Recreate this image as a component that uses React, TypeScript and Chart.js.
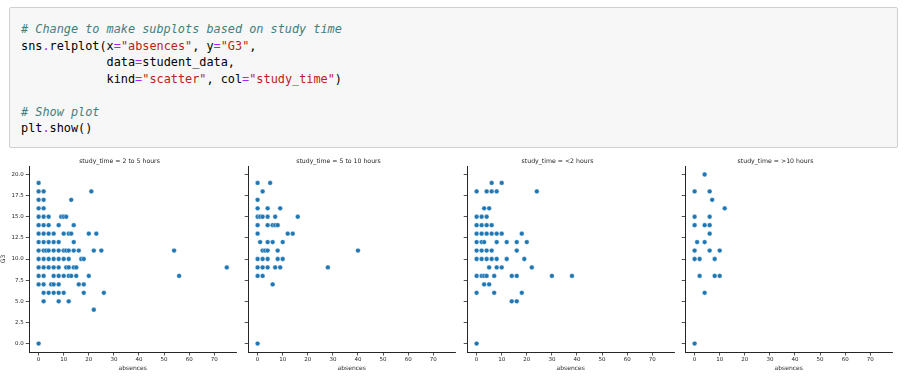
import React, { useEffect, useRef } from "react";
import { Chart, registerables } from "chart.js";

Chart.register(...registerables);

// ---- data ----
const panelTitles = [
  "study_time = 2 to 5 hours",
  "study_time = 5 to 10 hours",
  "study_time = <2 hours",
  "study_time = >10 hours",
];

const xTickValues = [0, 10, 20, 30, 40, 50, 60, 70];
const yTickValues = [0, 2.5, 5, 7.5, 10, 12.5, 15, 17.5, 20];

// study_time = 2 to 5 hours
const absences2to5 = [
  0,
  0, 2, 21,
  0, 2, 13,
  0, 2,
  0, 2, 4, 9, 10, 11,
  0, 2, 4, 8, 14,
  0, 2, 4, 6, 10, 12, 13, 20, 23,
  0, 2, 4, 6, 8, 14,
  0, 2, 3, 4, 6, 8, 10, 11, 12, 14, 16, 22, 25, 54,
  0, 2, 4, 6, 8, 10, 12, 17, 18,
  0, 2, 4, 6, 8, 11, 12, 14, 15, 75,
  0, 2, 6, 8, 10, 12, 13, 15, 20, 56,
  0, 2, 5, 6, 8, 16, 18,
  2, 4, 6, 8, 10, 18, 26,
  2, 8, 12,
  22,
  0,
];
const g3_2to5 = [
  19,
  18, 18, 18,
  17, 17, 17,
  16, 16,
  15, 15, 15, 15, 15, 15,
  14, 14, 14, 14, 14,
  13, 13, 13, 13, 13, 13, 13, 13, 13,
  12, 12, 12, 12, 12, 12,
  11, 11, 11, 11, 11, 11, 11, 11, 11, 11, 11, 11, 11, 11,
  10, 10, 10, 10, 10, 10, 10, 10, 10,
  9, 9, 9, 9, 9, 9, 9, 9, 9, 9,
  8, 8, 8, 8, 8, 8, 8, 8, 8, 8,
  7, 7, 7, 7, 7, 7, 7,
  6, 6, 6, 6, 6, 6, 6,
  5, 5, 5,
  4,
  0,
];

// study_time = 5 to 10 hours
const absences5to10 = [
  0, 5,
  2,
  0,
  0, 4, 9,
  0, 1, 2, 4, 7, 16,
  0, 4, 6, 7, 8,
  0, 12, 14,
  1, 4, 6, 10,
  2, 3, 4, 8, 40,
  0, 2, 4, 8, 10,
  0, 2, 4, 7, 9, 28,
  0, 2,
  6,
  0,
];
const g3_5to10 = [
  19, 19,
  18,
  17,
  16, 16, 16,
  15, 15, 15, 15, 15, 15,
  14, 14, 14, 14, 14,
  13, 13, 13,
  12, 12, 12, 12,
  11, 11, 11, 11, 11,
  10, 10, 10, 10, 10,
  9, 9, 9, 9, 9, 9,
  8, 8,
  7,
  0,
];

// study_time = <2 hours
const absencesUnder2 = [
  6, 10,
  0, 4, 6, 8, 24,
  3, 5,
  0, 2, 4,
  0, 2, 4, 6,
  0, 2, 4, 6, 8, 10, 18,
  0, 2, 3, 8, 12, 16, 20,
  0, 2, 4, 6, 16,
  0, 2, 4, 6, 8, 12, 19,
  5, 8, 10, 22,
  0, 2, 3, 4, 7, 14, 16, 30, 38,
  3, 5,
  0, 7, 18,
  14, 16,
  0,
];
const g3Under2 = [
  19, 19,
  18, 18, 18, 18, 18,
  16, 16,
  15, 15, 15,
  14, 14, 14, 14,
  13, 13, 13, 13, 13, 13, 13,
  12, 12, 12, 12, 12, 12, 12,
  11, 11, 11, 11, 11,
  10, 10, 10, 10, 10, 10, 10,
  9, 9, 9, 9,
  8, 8, 8, 8, 8, 8, 8, 8, 8,
  7, 7,
  6, 6, 6,
  5, 5,
  0,
];

// study_time = >10 hours
const absencesOver10 = [
  4,
  0, 6,
  7,
  12,
  0, 6,
  0, 4, 6,
  6,
  1, 4,
  0, 6, 10,
  0, 2, 8,
  2, 8, 10,
  4,
  0,
];
const g3Over10 = [
  20,
  18, 18,
  17,
  16,
  15, 15,
  14, 14, 14,
  13,
  12, 12,
  11, 11, 11,
  10, 10, 10,
  8, 8, 8,
  6,
  0,
];

const panelX = [absences2to5, absences5to10, absencesUnder2, absencesOver10];
const panelY = [g3_2to5, g3_5to10, g3Under2, g3Over10];

// ---- layout / style ----
const INK = "#262626";
const FONT = "DejaVu Sans";
const POINT = "#1f77b4";
const Y_AXIS_W = 29.2;
const CANVAS_W = 239;
const CANVAS_H = 225;
const CANVAS_TOP = 150;
const CANVAS_LEFTS = [0, 218.8, 437.6, 656.4];

function Panel({ idx }: { idx: number }) {
  const ref = useRef<HTMLCanvasElement | null>(null);
  useEffect(() => {
    if (!ref.current) return;
    const xs = panelX[idx];
    const ys = panelY[idx];
    const chart = new Chart(ref.current, {
      type: "scatter",
      data: {
        datasets: [
          {
            data: xs.map((x, i) => ({ x, y: ys[i] })),
            backgroundColor: POINT,
            borderColor: "#ffffff",
            borderWidth: 0.4,
            pointRadius: 2.4,
            pointHoverRadius: 2.4,
          },
        ],
      },
      options: {
        animation: false,
        responsive: false,
        maintainAspectRatio: false,
        events: [],
        layout: { padding: 0 },
        plugins: {
          legend: { display: false },
          tooltip: { enabled: false },
          title: {
            display: true,
            text: panelTitles[idx],
            color: INK,
            font: { family: FONT, size: 6.2, weight: "normal" },
            padding: { top: 7.5, bottom: 1.1 },
          },
        },
        scales: {
          x: {
            type: "linear",
            min: -3.75,
            max: 78.75,
            afterBuildTicks: (s: any) => {
              s.ticks = xTickValues.map((v) => ({ value: v }));
            },
            afterFit: (s: any) => {
              s.height = 23;
            },
            grid: {
              drawOnChartArea: false,
              drawTicks: true,
              tickLength: 3.5,
              color: INK,
              lineWidth: 0.8,
            },
            border: { display: true, color: INK, width: 1 },
            ticks: {
              color: INK,
              font: { family: FONT, size: 5.5 },
              padding: 1,
              maxRotation: 0,
              autoSkip: false,
              callback: (v: any) => String(v),
            },
            title: {
              display: true,
              text: "absences",
              color: INK,
              font: { family: FONT, size: 6 },
              padding: { top: 0, bottom: 2.5 },
            },
          },
          y: {
            type: "linear",
            min: -1,
            max: 21,
            afterBuildTicks: (s: any) => {
              s.ticks = yTickValues.map((v) => ({ value: v }));
            },
            afterFit: (s: any) => {
              s.width = Y_AXIS_W;
            },
            grid: {
              drawOnChartArea: false,
              drawTicks: true,
              tickLength: 3.5,
              color: INK,
              lineWidth: 0.8,
            },
            border: { display: true, color: INK, width: 1 },
            ticks: {
              display: idx === 0,
              color: INK,
              font: { family: FONT, size: 5.5 },
              padding: 2,
              autoSkip: false,
              callback: (v: any) => Number(v).toFixed(1),
            },
            title: {
              display: idx === 0,
              text: "G3",
              color: INK,
              font: { family: FONT, size: 6 },
              padding: 0,
            },
          },
        },
      },
    } as any);
    return () => chart.destroy();
  }, [idx]);
  return (
    <canvas
      ref={ref}
      width={CANVAS_W}
      height={CANVAS_H}
      style={{
        position: "absolute",
        left: CANVAS_LEFTS[idx],
        top: CANVAS_TOP,
        width: CANVAS_W,
        height: CANVAS_H,
      }}
    />
  );
}

const C_COMMENT = "#408080";
const C_STR = "#BA2121";
const C_OP = "#AA22FF";

function Code() {
  const cm = { color: C_COMMENT, fontStyle: "italic" as const };
  const st = { color: C_STR };
  const op = { color: C_OP };
  return (
    <pre
      style={{
        position: "absolute",
        left: 21,
        top: 21,
        margin: 0,
        fontFamily: "'DejaVu Sans Mono', monospace",
        fontSize: "11.85px",
        lineHeight: "16.5px",
        color: "#000",
      }}
    >
      <span style={cm}># Change to make subplots based on study time</span>
      {"\n"}sns<span style={op}>.</span>relplot(x<span style={op}>=</span>
      <span style={st}>"absences"</span>, y<span style={op}>=</span>
      <span style={st}>"G3"</span>,{"\n"}
      {"            "}data<span style={op}>=</span>student_data,{"\n"}
      {"            "}kind<span style={op}>=</span>
      <span style={st}>"scatter"</span>, col<span style={op}>=</span>
      <span style={st}>"study_time"</span>){"\n"}
      {"\n"}
      <span style={cm}># Show plot</span>
      {"\n"}plt<span style={op}>.</span>show()
    </pre>
  );
}

export default function App() {
  return (
    <div
      style={{
        position: "absolute",
        left: 0,
        top: 0,
        width: 917,
        height: 389,
        background: "#ffffff",
        overflow: "hidden",
      }}
    >
      <div
        style={{
          position: "absolute",
          left: 9,
          top: 7,
          width: 889,
          height: 141,
          boxSizing: "border-box",
          background: "#f7f7f7",
          border: "1px solid #cfcfcf",
          borderRadius: 2,
        }}
      />
      <Code />
      {[0, 1, 2, 3].map((i) => (
        <Panel key={i} idx={i} />
      ))}
    </div>
  );
}
